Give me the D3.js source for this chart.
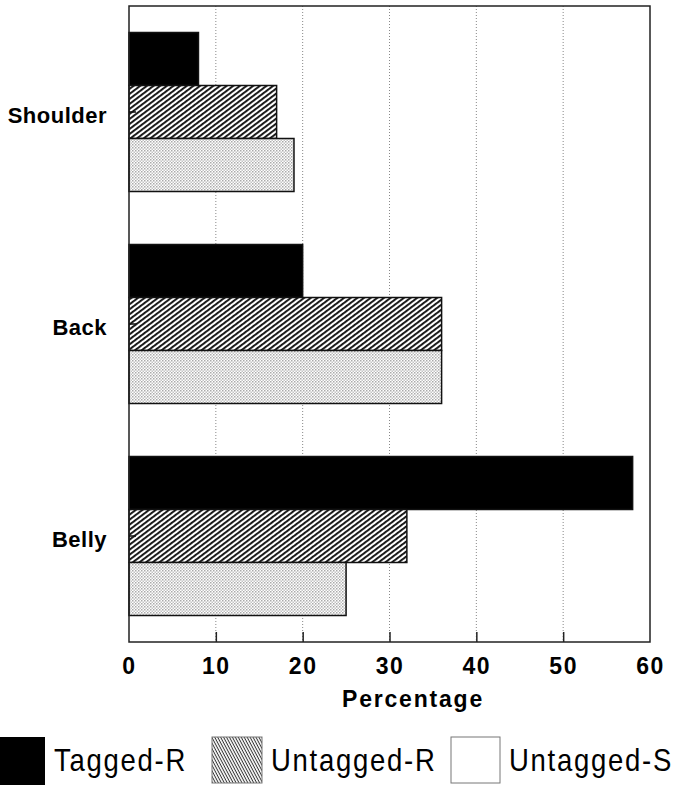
<!DOCTYPE html>
<html>
<head>
<meta charset="utf-8">
<script src="https://cdn.jsdelivr.net/npm/d3@7"></script>
<style>
  body { margin: 0; background: #fff; }
  svg { display: block; }
</style>
</head>
<body>
<svg id="chart"></svg>
<script>
// data
var categories = ["Shoulder", "Back", "Belly"];
var series = ["Tagged-R", "Untagged-R", "Untagged-S"];
var taggedR = [8, 20, 58];
var untaggedR = [17, 36, 32];
var untaggedS = [19, 36, 25];
var xTicks = [0, 10, 20, 30, 40, 50, 60];

var values = [taggedR, untaggedR, untaggedS];
var rows = [];
categories.forEach(function(c, i) {
  series.forEach(function(s, j) {
    rows.push({ category: c, series: s, value: values[j][i] });
  });
});

var width = 678;
var height = 785;
var plotLeft = 129, plotRight = 650, plotTop = 6, plotBottom = 642;

var svg = d3.select("#chart")
  .attr("width", width)
  .attr("height", height);

// patterns
var defs = svg.append("defs");

var hatch = defs.append("pattern")
  .attr("id", "hatch")
  .attr("patternUnits", "userSpaceOnUse")
  .attr("width", 10)
  .attr("height", 4)
  .attr("patternTransform", "rotate(-37)");
hatch.append("rect").attr("width", 10).attr("height", 4).attr("fill", "#fff");
hatch.append("rect").attr("width", 10).attr("height", 1.9).attr("fill", "#111");

var hatchLegend = defs.append("pattern")
  .attr("id", "hatchLegend")
  .attr("patternUnits", "userSpaceOnUse")
  .attr("width", 10)
  .attr("height", 2.6)
  .attr("patternTransform", "rotate(62)");
hatchLegend.append("rect").attr("width", 10).attr("height", 2.6).attr("fill", "#fff");
hatchLegend.append("rect").attr("width", 10).attr("height", 1).attr("fill", "#333");

var dots = defs.append("pattern")
  .attr("id", "dots")
  .attr("patternUnits", "userSpaceOnUse")
  .attr("width", 3)
  .attr("height", 3);
dots.append("rect").attr("width", 3).attr("height", 3).attr("fill", "#fff");
dots.append("rect").attr("width", 1.5).attr("height", 1.5).attr("fill", "#aaa");
dots.append("rect").attr("x", 1.5).attr("y", 1.5).attr("width", 1.5).attr("height", 1.5).attr("fill", "#c4c4c4");

var fills = d3.scaleOrdinal()
  .domain(series)
  .range(["#000", "url(#hatch)", "url(#dots)"]);

var legendFills = d3.scaleOrdinal()
  .domain(series)
  .range(["#000", "url(#hatchLegend)", "#fff"]);

// scales
var xScale = d3.scaleLinear()
  .domain([0, 60])
  .range([plotLeft, plotRight]);

var yScale = d3.scaleBand()
  .domain(categories)
  .range([plotTop, plotBottom])
  .paddingInner(0.25)
  .paddingOuter(0.125);

var inner = d3.scaleBand()
  .domain(series)
  .range([0, yScale.bandwidth()]);

// gridlines
svg.append("g")
  .selectAll("line")
  .data(xTicks.filter(function(d) { return d > 0 && d < 60; }))
  .enter()
  .append("line")
  .attr("x1", function(d) { return xScale(d); })
  .attr("x2", function(d) { return xScale(d); })
  .attr("y1", plotTop)
  .attr("y2", plotBottom)
  .attr("stroke", "#888")
  .attr("stroke-width", 1)
  .attr("stroke-dasharray", "1,2");

// bars
svg.append("g")
  .selectAll("rect")
  .data(rows)
  .enter()
  .append("rect")
  .attr("x", xScale(0))
  .attr("y", function(d) { return yScale(d.category) + inner(d.series); })
  .attr("width", function(d) { return xScale(d.value) - xScale(0); })
  .attr("height", inner.bandwidth())
  .attr("fill", function(d) { return fills(d.series); })
  .attr("stroke", "#111")
  .attr("stroke-width", 1.5);

// frame
svg.append("rect")
  .attr("x", plotLeft)
  .attr("y", plotTop)
  .attr("width", plotRight - plotLeft)
  .attr("height", plotBottom - plotTop)
  .attr("fill", "none")
  .attr("stroke", "#222")
  .attr("stroke-width", 1.5);

// bottom axis
var xAxis = svg.append("g")
  .attr("transform", "translate(0," + plotBottom + ")")
  .call(d3.axisBottom(xScale).tickValues(xTicks).tickSize(-10).tickPadding(16));
xAxis.select(".domain").remove();
xAxis.selectAll(".tick line")
  .attr("stroke", "#222")
  .attr("stroke-width", 1.5)
  .attr("display", function(d) { return d === 0 || d === 60 ? "none" : null; });
xAxis.selectAll("text")
  .attr("fill", "#000")
  .style("font-family", "'Liberation Sans', Arial, sans-serif")
  .style("font-weight", "bold")
  .style("font-size", "23px")
  .style("letter-spacing", "1.5px");

svg.append("text")
  .attr("x", 413)
  .attr("y", 707)
  .attr("text-anchor", "middle")
  .style("font-family", "'Liberation Sans', Arial, sans-serif")
  .style("font-weight", "bold")
  .style("font-size", "23px")
  .style("letter-spacing", "1.8px")
  .text("Percentage");

// left axis
var yAxis = svg.append("g")
  .attr("transform", "translate(" + plotLeft + ",0)")
  .call(d3.axisLeft(yScale).tickSize(-7).tickPadding(22));
yAxis.select(".domain").remove();
yAxis.selectAll(".tick line")
  .attr("stroke", "#111")
  .attr("stroke-width", 1.5);
yAxis.selectAll("text")
  .attr("fill", "#000")
  .attr("dy", "0.5em")
  .style("font-family", "'Liberation Sans', Arial, sans-serif")
  .style("font-weight", "bold")
  .style("font-size", "22px")
  .style("letter-spacing", "0.5px");

// legend
var legendBoxX = [0, 212, 451];
var legendBoxW = [45, 50, 49];
var legend = svg.append("g")
  .selectAll("g")
  .data(series)
  .enter()
  .append("g");

legend.append("rect")
  .attr("x", function(d, i) { return legendBoxX[i]; })
  .attr("y", 737)
  .attr("width", function(d, i) { return legendBoxW[i]; })
  .attr("height", function(d, i) { return i === 0 ? 48 : 46; })
  .attr("fill", function(d) { return legendFills(d); })
  .attr("stroke", function(d, i) { return i === 0 ? "none" : "#777"; })
  .attr("stroke-width", 1);

legend.append("text")
  .attr("transform", function(d, i) {
    return "translate(" + (legendBoxX[i] + legendBoxW[i] + 9) + ",771) scale(0.86,1)";
  })
  .style("font-family", "'Liberation Sans', Arial, sans-serif")
  .style("font-size", "32px")
  .style("letter-spacing", "2px")
  .text(function(d) { return d; });
</script>
</body>
</html>
